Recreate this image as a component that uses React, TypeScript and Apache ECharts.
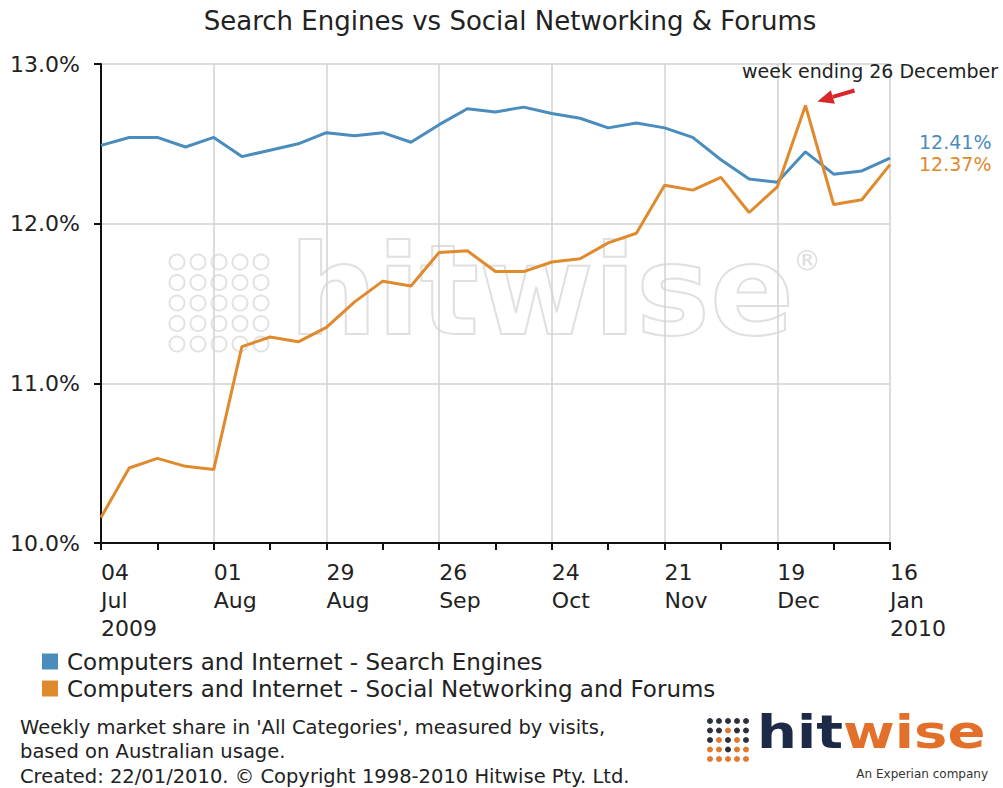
import React, { useEffect, useRef } from "react";
import * as echarts from "echarts";

const categories = [
  "04 Jul 2009", "11 Jul 2009", "18 Jul 2009", "25 Jul 2009",
  "01 Aug 2009", "08 Aug 2009", "15 Aug 2009", "22 Aug 2009", "29 Aug 2009",
  "05 Sep 2009", "12 Sep 2009", "19 Sep 2009", "26 Sep 2009",
  "03 Oct 2009", "10 Oct 2009", "17 Oct 2009", "24 Oct 2009", "31 Oct 2009",
  "07 Nov 2009", "14 Nov 2009", "21 Nov 2009", "28 Nov 2009",
  "05 Dec 2009", "12 Dec 2009", "19 Dec 2009", "26 Dec 2009",
  "02 Jan 2010", "09 Jan 2010", "16 Jan 2010",
];

const searchEngines = [
  12.49, 12.54, 12.54, 12.48, 12.54, 12.42, 12.46, 12.5, 12.57, 12.55,
  12.57, 12.51, 12.62, 12.72, 12.7, 12.73, 12.69, 12.66, 12.6, 12.63,
  12.6, 12.54, 12.4, 12.28, 12.26, 12.45, 12.31, 12.33, 12.41,
];

const socialNetworking = [
  10.16, 10.47, 10.53, 10.48, 10.46, 11.23, 11.29, 11.26, 11.35, 11.51,
  11.64, 11.61, 11.82, 11.83, 11.7, 11.7, 11.76, 11.78, 11.88, 11.94,
  12.24, 12.21, 12.29, 12.07, 12.23, 12.74, 12.12, 12.15, 12.37,
];

const seriesNames = [
  "Computers and Internet - Search Engines",
  "Computers and Internet - Social Networking and Forums",
];

const footerLines = [
  "Weekly market share in 'All Categories', measured by visits,",
  "based on Australian usage.",
  "Created: 22/01/2010. \u00A9 Copyright 1998-2010 Hitwise Pty. Ltd.",
];

const annotationText = "week ending 26 December";
const annotationIndex = 25;

const BLUE = "#4a8cbc";
const ORANGE = "#e08a2e";
const FONT = "'DejaVu Sans', Verdana, sans-serif";

export default function App() {
  const ref = useRef<HTMLDivElement>(null);

  useEffect(() => {
    if (!ref.current) return;
    const chart = echarts.init(ref.current, undefined, { renderer: "svg" });

    // watermark dots
    const wmDots: any[] = [];
    for (let r = 0; r < 5; r++) {
      for (let c = 0; c < 5; c++) {
        wmDots.push({
          type: "circle",
          shape: { cx: 177 + c * 21, cy: 262 + r * 20.5, r: 7.5 },
          style: { fill: "none", stroke: "#e2e2e2", lineWidth: 2 },
          silent: true,
          z: -10,
        });
      }
    }

    // logo dots
    const logoDots: any[] = [];
    const darkMap = [
      [1, 1, 1, 1, 1],
      [1, 1, 0, 1, 1],
      [1, 0, 1, 0, 1],
      [0, 0, 1, 0, 0],
      [0, 0, 0, 0, 0],
    ];
    for (let r = 0; r < 5; r++) {
      for (let c = 0; c < 5; c++) {
        logoDots.push({
          type: "circle",
          shape: { cx: 710 + c * 9, cy: 721 + r * 9.5, r: 3 },
          style: { fill: darkMap[r][c] ? "#2c2f3c" : "#e07a30" },
          silent: true,
        });
      }
    }

    const option: any = {
      animation: false,
      backgroundColor: "#ffffff",
      title: {
        text: "Search Engines vs Social Networking & Forums",
        left: 505,
        textAlign: "center",
        top: 3,
        textStyle: { fontFamily: FONT, fontSize: 26, fontWeight: "normal", color: "#222" },
      },
      grid: { left: 101, right: 113, top: 64, bottom: 245, containLabel: false },
      legend: {
        orient: "vertical",
        left: 42,
        top: 650,
        padding: 0,
        itemWidth: 16,
        itemHeight: 16,
        itemGap: 4,
        icon: "rect",
        data: seriesNames,
        textStyle: { fontFamily: FONT, fontSize: 23, color: "#222", padding: [0, 0, 0, 4] },
      },
      xAxis: {
        type: "category",
        data: categories,
        boundaryGap: false,
        axisLine: { lineStyle: { color: "#111", width: 2 } },
        axisTick: { interval: 1, length: 7, lineStyle: { color: "#111", width: 2 } },
        axisLabel: {
          interval: 3,
          align: "left",
          margin: 15,
          lineHeight: 28,
          fontFamily: FONT,
          fontSize: 22,
          color: "#222",
          formatter: (v: string, i: number) => {
            const p = v.split(" ");
            if (i === 0 || i === categories.length - 1) return p.join("\n");
            return p[0] + "\n" + p[1];
          },
        },
        splitLine: { show: true, interval: 3, lineStyle: { color: "#d2d2d2", width: 1.5 } },
      },
      yAxis: {
        type: "value",
        min: 10,
        max: 13,
        interval: 1,
        axisLine: { show: true, lineStyle: { color: "#111", width: 2 } },
        axisTick: { show: true, length: 7, lineStyle: { color: "#111", width: 2 } },
        axisLabel: {
          margin: 21,
          fontFamily: FONT,
          fontSize: 22,
          color: "#222",
          formatter: (v: number) => v.toFixed(1) + "%",
        },
        splitLine: { show: true, lineStyle: { color: "#d2d2d2", width: 1.5 } },
      },
      series: [
        {
          name: seriesNames[0],
          type: "line",
          data: searchEngines,
          symbol: "none",
          color: BLUE,
          lineStyle: { width: 3, color: BLUE },
          z: 3,
          endLabel: {
            show: true,
            formatter: (p: any) => Number(p.value).toFixed(2) + "%",
            color: BLUE,
            fontFamily: FONT,
            fontSize: 19,
            offset: [21, -16],
          },
        },
        {
          name: seriesNames[1],
          type: "line",
          data: socialNetworking,
          symbol: "none",
          color: ORANGE,
          lineStyle: { width: 3, color: ORANGE },
          z: 4,
          endLabel: {
            show: true,
            formatter: (p: any) => Number(p.value).toFixed(2) + "%",
            color: ORANGE,
            fontFamily: FONT,
            fontSize: 19,
            offset: [21, -1],
          },
        },
      ],
      graphic: [
        ...wmDots,
        {
          type: "text",
          left: 288,
          top: 228,
          silent: true,
          z: -10,
          style: {
            text: "hitwise",
            fontFamily: "'DejaVu Sans', sans-serif",
            fontSize: 124,
            fontWeight: "bold",
            fill: "none",
            stroke: "#e0e0e0",
            lineWidth: 2,
          },
        },
        {
          type: "text",
          left: 793,
          top: 246,
          silent: true,
          z: -10,
          style: { text: "\u00AE", fontFamily: FONT, fontSize: 28, fill: "#dddddd" },
        },
        ...footerLines.map((t, i) => ({
          type: "text",
          left: 20,
          top: 717 + i * 24.5,
          style: { text: t, fontFamily: FONT, fontSize: 19.5, fill: "#222" },
        })),
        ...logoDots,
        {
          type: "text",
          x: 757,
          y: 709,
          scaleX: 1.22,
          style: {
            text: "{a|hit}{b|wise}",
            rich: {
              a: { fontFamily: "'DejaVu Sans', sans-serif", fontWeight: "bold", fontSize: 46, fill: "#1c2a48", color: "#1c2a48" },
              b: { fontFamily: "'DejaVu Sans', sans-serif", fontWeight: "bold", fontSize: 46, fill: "#e2702a", color: "#e2702a" },
            },
          },
        },
        {
          type: "text",
          right: 15,
          top: 768,
          style: { text: "An Experian company", fontFamily: FONT, fontSize: 12, fill: "#333" },
        },
      ],
    };

    chart.setOption(option);

    // annotation for week ending 26 December, positioned from the data point
    const pt = chart.convertToPixel({ seriesIndex: 1 }, [annotationIndex, socialNetworking[annotationIndex]]) as number[];
    if (pt) {
      const tip = [pt[0] + 12, pt[1] - 4];
      const tail = [pt[0] + 49, pt[1] - 15];
      const dx = tip[0] - tail[0];
      const dy = tip[1] - tail[1];
      const len = Math.sqrt(dx * dx + dy * dy);
      const ux = dx / len, uy = dy / len;
      const hl = 16, hw = 7;
      const bx = tip[0] - ux * hl, by = tip[1] - uy * hl;
      const px = -uy * hw, py = ux * hw;
      chart.setOption({
        graphic: [
          ...option.graphic,
          {
            type: "text",
            right: 5,
            top: pt[1] - 44,
            style: { text: annotationText, fontFamily: FONT, fontSize: 19, fill: "#222" },
          },
          {
            type: "line",
            shape: { x1: tail[0], y1: tail[1], x2: bx, y2: by },
            style: { stroke: "#d8262a", lineWidth: 4 },
          },
          {
            type: "polygon",
            shape: { points: [tip, [bx + px, by + py], [bx - px, by - py]] },
            style: { fill: "#d8262a" },
          },
        ],
      }, { replaceMerge: ["graphic"] });
    }

    return () => chart.dispose();
  }, []);

  return <div ref={ref} style={{ width: 1003, height: 788, position: "absolute", left: 0, top: 0 }} />;
}
